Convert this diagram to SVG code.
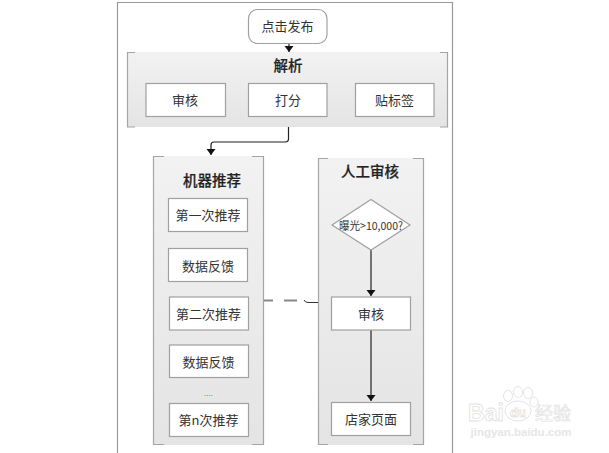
<svg xmlns="http://www.w3.org/2000/svg" width="609" height="453" viewBox="0 0 609 453">
<style>
text{font-family:"Noto Sans CJK SC","Liberation Sans",sans-serif;fill:#333;text-anchor:middle}
.t{font-size:13px}
.h{font-size:14.500px;font-weight:500;fill:#222;stroke:#222;stroke-width:.2}
.b{fill:#fff;stroke:#a0a0a0;stroke-width:1.200}
.p{fill:url(#g)}
.c{fill:none;stroke:#a5a5a5;stroke-width:1.200}
.l{fill:none;stroke:#222;stroke-width:1.200}
.w{fill:#fff;stroke:#e2e2e2;stroke-width:.8;font-family:"Liberation Sans",sans-serif}
.pw{fill:none;stroke:#e4e4e4}
</style>
<defs>
<linearGradient id="g" x1="0" y1="0" x2="0" y2="1"><stop offset="0" stop-color="#f2f2f2"/><stop offset="1" stop-color="#e4e4e4"/></linearGradient>
<marker id="a" markerWidth="10" markerHeight="10" refX="6" refY="5" orient="auto" markerUnits="userSpaceOnUse"><path d="M0 .5L6 5L0 9.500Z" fill="#111"/></marker>
</defs>
<rect width="609" height="453" fill="#fff"/>
<path id="frame" d="M117.500 453V2.500H452.500V453" fill="none" stroke="#999" stroke-width="1.200"/>

<g id="panel-parse"><rect class="p" x="127" y="52" width="320" height="75"/><path class="c" d="M135 52.500H127.500V127H135M440 52.500H447.500V127H440"/><text class="h" x="288" y="71">解析</text></g>
<g id="panel-machine"><rect class="p" x="153" y="156" width="110" height="289"/><path class="c" d="M164 156.500H153.500V444.500H164M252 156.500H263.500V444.500H252"/><text class="h" x="212" y="186">机器推荐</text></g>
<g id="panel-human"><rect class="p" x="318" y="158" width="105" height="287"/><path class="c" d="M328 158.500H318.500V444.500H328M413 158.500H423.500V444.500H413"/><text class="h" x="370" y="177">人工审核</text></g>

<g id="connectors">
<path class="l" d="M289 43V52" marker-end="url(#a)"/>
<path class="l" d="M288.500 127V139Q288.500 142 285 142H214Q211 142 211 145V155" marker-end="url(#a)"/>
<path class="l" d="M371 250V296" marker-end="url(#a)"/>
<path class="l" d="M371 330V401" marker-end="url(#a)"/>
<path d="M264 300.500H273M284 300.500H297" fill="none" stroke="#888" stroke-width="2"/>
<path d="M304 300Q305 302.500 308 302.500H318" fill="none" stroke="#333" stroke-width="1"/>
</g>

<g id="start"><rect class="b" x="248.500" y="9.500" width="78.500" height="34" rx="9"/><text class="t" x="287.500" y="31">点击发布</text></g>
<g id="n-audit"><rect class="b" x="146" y="83.500" width="79.500" height="33"/><text class="t" x="185" y="105">审核</text></g>
<g id="n-score"><rect class="b" x="248.500" y="83.500" width="78.500" height="33"/><text class="t" x="288" y="105">打分</text></g>
<g id="n-tag"><rect class="b" x="355.500" y="83.500" width="78.500" height="33"/><text class="t" x="394.500" y="105">贴标签</text></g>

<g id="m1"><rect class="b" x="168.500" y="198.500" width="79" height="33"/><text class="t" x="208" y="220">第一次推荐</text></g>
<g id="m2"><rect class="b" x="168.500" y="248.500" width="79" height="33"/><text class="t" x="208" y="271">数据反馈</text></g>
<g id="m3"><rect class="b" x="169.500" y="297" width="79" height="33"/><text class="t" x="208.500" y="319">第二次推荐</text></g>
<g id="m4"><rect class="b" x="169.500" y="345" width="79" height="32.500"/><text class="t" x="208.500" y="367">数据反馈</text></g>
<g id="dots"><text x="208.500" y="396" font-size="8" style="font-family:'Liberation Sans',sans-serif;fill:#555">....</text></g>
<g id="m5"><rect class="b" x="169.500" y="403.500" width="79" height="33"/><text class="t" x="208.500" y="425">第n次推荐</text></g>

<g id="h-diamond"><path class="b" d="M371 199.500L410 225L371 250L332 225Z"/><text x="371" y="230" font-size="11" textLength="64" lengthAdjust="spacingAndGlyphs">曝光&gt;10,000?</text></g>
<g id="h-audit"><rect class="b" x="331.500" y="297" width="79" height="33"/><text class="t" x="371" y="319">审核</text></g>
<g id="h-shop"><rect class="b" x="331.500" y="402.500" width="79" height="33"/><text class="t" x="371" y="424">店家页面</text></g>

<g id="watermark">
<ellipse class="pw" cx="518" cy="411" rx="13" ry="10"/>
<ellipse class="pw" cx="508" cy="396" rx="4.500" ry="5.500"/>
<ellipse class="pw" cx="518" cy="392" rx="4.500" ry="5.500"/>
<ellipse class="pw" cx="528" cy="393" rx="4.500" ry="5.500"/>
<ellipse class="pw" cx="534" cy="402" rx="4" ry="5"/>
<text class="w" x="486" y="421" font-size="23" font-weight="700">Bai</text>
<text class="w" x="518" y="417" font-size="13" font-weight="700">du</text>
<text x="553" y="420" font-size="18" style="fill:#fff;stroke:#e2e2e2;stroke-width:.7">经验</text>
<text x="521" y="436" font-size="11.500" style="fill:#e6e6e6;font-family:'Liberation Sans',sans-serif;font-weight:700">jingyan.baidu.com</text>
</g>
</svg>
